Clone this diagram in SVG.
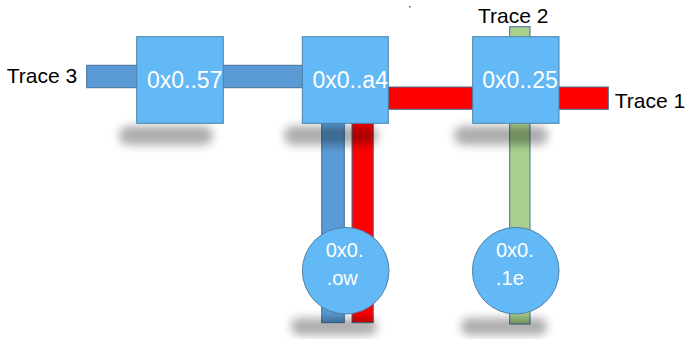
<svg xmlns="http://www.w3.org/2000/svg" width="688" height="339" viewBox="0 0 688 339">
<defs>
<filter id="blur" x="-30%" y="-100%" width="160%" height="300%"><feGaussianBlur stdDeviation="5"/></filter>
<style>
.bar{stroke:#41719c;stroke-width:1}
.blue{fill:#5b9bd5}
.red{fill:#ff0000}
.green{fill:#a9d18e}
.node{fill:#63b8f6;stroke:#4f81a8;stroke-width:1}
.shadow{fill:#000;opacity:0.32;filter:url(#blur)}
.lbl{font-family:"Liberation Sans",Arial,sans-serif;font-size:23px;fill:#fff}
.clbl{font-family:"Liberation Sans",Arial,sans-serif;font-size:20px;fill:#fff}
.trace{font-family:"Liberation Sans",Arial,sans-serif;font-size:21px;fill:#000}
</style>
</defs>
<rect width="688" height="339" fill="#fff"/>
<rect x="409" y="6" width="1.5" height="1.5" fill="#555"/>
<g id="connectors">
<rect class="bar blue" x="86.7" y="65.3" width="216" height="22.4"/>
<rect class="bar blue" x="321.7" y="123" width="22.6" height="199.7"/>
<rect class="bar red" x="388" y="87" width="220.3" height="22.3"/>
<rect class="bar red" x="352" y="123" width="21.3" height="199.7"/>
<rect class="bar green" x="509.7" y="26.7" width="20.3" height="297.3"/>
</g>
<g id="shadows">
<rect class="shadow" x="119" y="126" width="94" height="19" rx="9"/>
<rect class="shadow" x="284" y="126" width="94" height="19" rx="9"/>
<rect class="shadow" x="454" y="126" width="94" height="19" rx="9"/>
<rect class="shadow" x="291" y="318" width="86" height="17" rx="8"/>
<rect class="shadow" x="461" y="318" width="86" height="17" rx="8"/>
</g>
<g id="node-57">
<rect class="node" x="136.7" y="36.7" width="86.6" height="86.6"/>
<text class="lbl" x="147" y="88">0x0..57</text>
</g>
<g id="node-a4">
<rect class="node" x="302.3" y="36.7" width="86" height="86.6"/>
<text class="lbl" x="312.5" y="88">0x0..a4</text>
</g>
<g id="node-25">
<rect class="node" x="472.7" y="36.7" width="86.3" height="86.6"/>
<text class="lbl" x="482.3" y="88">0x0..25</text>
</g>
<g id="node-ow">
<circle class="node" cx="345.7" cy="270.7" r="43.3"/>
<text class="clbl" x="325.7" y="257.3">0x0.</text>
<text class="clbl" x="326.7" y="285">.ow</text>
</g>
<g id="node-1e">
<circle class="node" cx="515.7" cy="270.7" r="43.3"/>
<text class="clbl" x="496" y="257.3">0x0.</text>
<text class="clbl" x="496" y="285">.1e</text>
</g>
<g id="labels">
<text class="trace" x="6.7" y="83">Trace 3</text>
<text class="trace" x="478" y="22.7">Trace 2</text>
<text class="trace" x="614.7" y="108.3">Trace 1</text>
</g>
</svg>
